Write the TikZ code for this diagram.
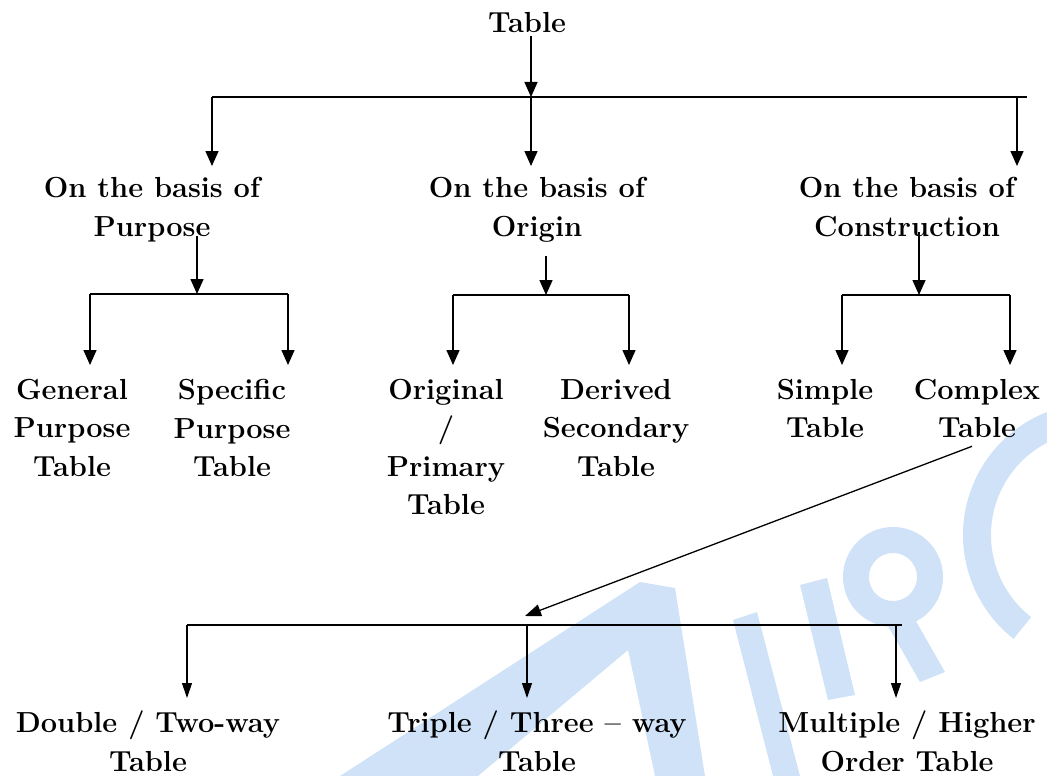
\documentclass[tikz,border=0pt]{standalone}
\usepackage{fontspec}
\usetikzlibrary{arrows.meta}
\definecolor{wm}{HTML}{CFE2F7}
\tikzset{
  lbl/.style={anchor=north, inner sep=0pt, align=center, font=\bfseries\fontsize{29}{38.5}\selectfont},
  arr/.style={line width=1.5pt, -{Triangle[length=15pt,width=13pt]}},
  thinarr/.style={line width=1.1pt, -{Triangle[length=15pt,width=10pt]}},
  bar/.style={line width=1.8pt},
  wmark/.style={fill=wm, draw=none},
}
\begin{document}
\begin{tikzpicture}[x=1pt,y=-1pt]
\useasboundingbox (0,0) rectangle (1047,776);
% watermark (approximate)
\fill[wmark, even odd rule] (340,776) -- (640,582) -- (675,588) -- (705,776) -- cycle
  (478,776) -- (628,650) -- (655,776) -- cycle;
\fill[wmark] (733,620) -- (757,612) -- (800,776) -- (773,776) -- cycle;
\fill[wmark] (800,585) -- (827,578) -- (855,695) -- (828,700) -- cycle;
\fill[wmark] (880,612) -- (905,602) -- (945,672) -- (920,682) -- cycle;
\draw[wm, line width=26pt] (893,577) circle (37pt);
\draw[wm, line width=28pt] (1095,535) ++(105:118pt) arc (105:232:118pt);
% level 0
\node[lbl] (table) at (527,12) {Table};
\coordinate (j0) at (531,97);
\coordinate (hL) at (212,97);
\coordinate (hR) at (1027,97);
\coordinate (d1) at (212,166);
\coordinate (d2) at (531,166);
\coordinate (d3) at (1017,166);
\draw[arr] (j0 |- table.south) ++(0,3) -- (j0);
\draw[bar] (hL) -- (hR);
\draw[arr] (hL) -- (d1);
\draw[arr] (j0) -- (d2);
\draw[arr] (d3 |- hR) -- (d3);
% level 1
\node[lbl] (purpose) at (152,177) {On the basis of\\Purpose};
\node[lbl] (origin) at (537,177) {On the basis of\\Origin};
\node[lbl] (constr) at (907,177) {On the basis of\\Construction};
% purpose branch
\coordinate (pa) at (197,236);
\coordinate (pj) at (197,294);
\coordinate (pL) at (90,294);
\coordinate (pR) at (288,294);
\draw[arr] (pa) -- (pj);
\draw[bar] (pL) -- (pR);
\draw[arr] (pL) -- ++(0,71);
\draw[arr] (pR) -- ++(0,71);
% origin branch
\coordinate (oa) at (546,256);
\coordinate (oj) at (546,295);
\coordinate (oL) at (453,295);
\coordinate (oR) at (629,295);
\draw[arr] (oa) -- (oj);
\draw[bar] (oL) -- (oR);
\draw[arr] (oL) -- ++(0,70);
\draw[arr] (oR) -- ++(0,70);
% construction branch
\coordinate (ca) at (919,232);
\coordinate (cj) at (919,295);
\coordinate (cL) at (842,295);
\coordinate (cR) at (1010,295);
\draw[arr] (ca) -- (cj);
\draw[bar] (cL) -- (cR);
\draw[arr] (cL) -- ++(0,70);
\draw[arr] (cR) -- ++(0,70);
% leaves
\node[lbl] (general) at (72,379) {General\\Purpose\\Table};
\node[lbl] (specific) at (232,379) {Specific\\Purpose\\Table};
\node[lbl] (original) at (446,379) {Original\\/\\Primary\\Table};
\node[lbl] (derived) at (616,379) {Derived\\Secondary\\Table};
\node[lbl] (simple) at (825,379) {Simple\\Table};
\node[lbl] (complex) at (977,379) {Complex\\Table};
% complex -> bottom
\coordinate (bj) at (525,616);
\coordinate (bL) at (187,625);
\coordinate (bR) at (902,625);
\draw[line width=1.3pt, -{Triangle[length=16pt,width=12pt]}] (complex.south) ++(-5,8) -- (bj);
\draw[line width=2.2pt] (bL) -- (bR);
\draw[thinarr] (bL) -- ++(0,73);
\draw[thinarr] (527,625) -- ++(0,73);
\draw[thinarr] (896,625) -- ++(0,73);
% bottom leaves
\node[lbl] (double) at (148,711) {Double / Two-way\\Table};
\node[lbl] (triple) at (537,711) {Triple / Three – way\\Table};
\node[lbl] (multiple) at (907,711) {Multiple / Higher\\Order Table};
\end{tikzpicture}
\end{document}
